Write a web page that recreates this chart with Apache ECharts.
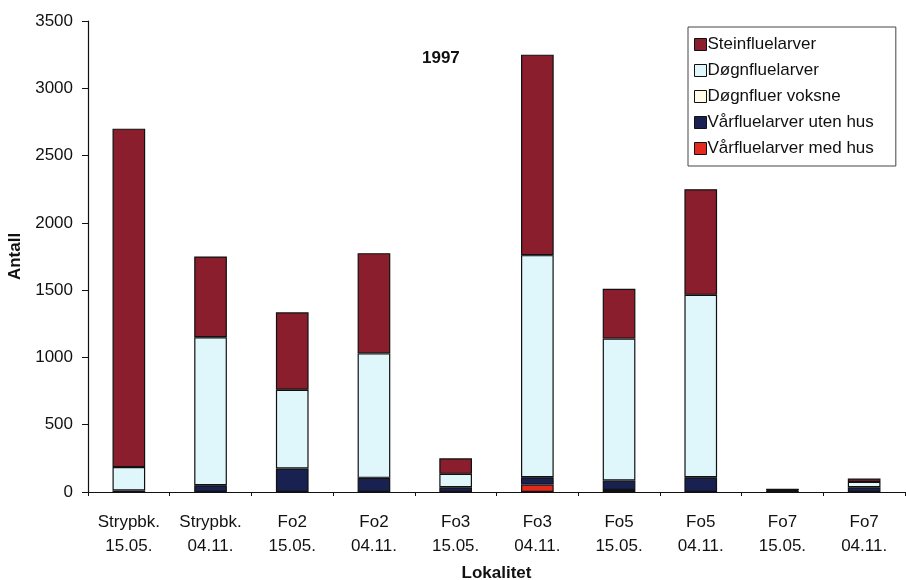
<!DOCTYPE html>
<html>
<head>
<meta charset="utf-8">
<script src="https://cdn.jsdelivr.net/npm/echarts@6/dist/echarts.min.js"></script>
<style>
  html, body { margin: 0; padding: 0; background: #fff; }
  #chart { width: 906px; height: 580px; }
</style>
</head>
<body>
<div id="chart"></div>
<script>
// Sampling sites and dates (two-line category labels)
const categories = [
  'Strypbk.\n15.05.', 'Strypbk.\n04.11.', 'Fo2\n15.05.', 'Fo2\n04.11.', 'Fo3\n15.05.',
  'Fo3\n04.11.', 'Fo5\n15.05.', 'Fo5\n04.11.', 'Fo7\n15.05.', 'Fo7\n04.11.'
];

// Counts per group (stacked bottom to top: med hus, uten hus, voksne, døgnfluelarver, steinfluelarver)
const vaarMedHus     = [0,   0,    0,   0,   0,   55,   15,   0,   0,  0];
const vaarUtenHus    = [12,  50,   175, 105, 35,  55,   70,   110, 10, 35];
const doegnVoksne    = [0,   0,    0,   0,   0,   0,    0,    0,   0,  0];
const doegnLarver    = [173, 1100, 585, 925, 100, 1650, 1055, 1355, 5, 40];
const steinLarver    = [2515, 600, 575, 745, 115, 1490, 370,  785, 10, 25];

const yTicks = { min: 0, max: 3500, interval: 500 };

const FONT = '"Liberation Sans", Arial, Helvetica, sans-serif';
const toData = arr => arr.map(v => (v === 0 ? null : v));

function barSeries(name, values, color) {
  return {
    name: name,
    type: 'bar',
    stack: 'antall',
    barWidth: '40%',
    data: toData(values),
    itemStyle: { color: color, borderColor: '#111', borderWidth: 1.2 },
    emphasis: { disabled: true }
  };
}

const chart = echarts.init(document.getElementById('chart'), null, { renderer: 'canvas' });
chart.setOption({
  animation: false,
  backgroundColor: '#fff',
  textStyle: { fontFamily: FONT },
  title: {
    text: '1997',
    left: 417,
    top: 45,
    textStyle: { fontFamily: FONT, fontSize: 17, fontWeight: 'bold', color: '#111' }
  },
  legend: {
    orient: 'vertical',
    left: 688,
    top: 27,
    backgroundColor: '#fff',
    borderColor: '#444',
    borderWidth: 1,
    padding: [9, 22, 9, 6],
    itemGap: 9,
    itemWidth: 12,
    itemHeight: 12,
    icon: 'rect',
    itemStyle: { borderColor: '#111', borderWidth: 1 },
    textStyle: { fontFamily: FONT, fontSize: 17, color: '#111', padding: [0, 0, 0, -4] },
    data: ['Steinfluelarver', 'Døgnfluelarver', 'Døgnfluer voksne', 'Vårfluelarver uten hus', 'Vårfluelarver med hus']
  },
  grid: { left: 88, right: 1, top: 21, bottom: 88, containLabel: false, outerBoundsMode: 'none' },
  xAxis: {
    type: 'category',
    data: categories,
    name: 'Lokalitet',
    nameLocation: 'middle',
    nameGap: 73,
    nameTextStyle: { fontFamily: FONT, fontSize: 17, fontWeight: 'bold', color: '#111' },
    axisLine: { lineStyle: { color: '#111', width: 1.2 } },
    axisTick: { show: true, length: 4, lineStyle: { color: '#111' } },
    axisLabel: { fontFamily: FONT, fontSize: 17, color: '#111', margin: 18, lineHeight: 24, interval: 0 }
  },
  yAxis: {
    type: 'value',
    min: yTicks.min,
    max: yTicks.max,
    interval: yTicks.interval,
    name: 'Antall',
    nameLocation: 'middle',
    nameRotate: 90,
    nameGap: 57,
    nameTextStyle: { fontFamily: FONT, fontSize: 17, fontWeight: 'bold', color: '#111' },
    axisLine: { show: true, lineStyle: { color: '#111', width: 1.2 } },
    axisTick: { show: true, length: 6, lineStyle: { color: '#111' } },
    splitLine: { show: false },
    axisLabel: { fontFamily: FONT, fontSize: 17, color: '#111', margin: 15, formatter: v => String(v) }
  },
  series: [
    barSeries('Vårfluelarver med hus', vaarMedHus, '#e42a1f'),
    barSeries('Vårfluelarver uten hus', vaarUtenHus, '#18214f'),
    barSeries('Døgnfluer voksne', doegnVoksne, '#fffbe6'),
    barSeries('Døgnfluelarver', doegnLarver, '#dff7fb'),
    barSeries('Steinfluelarver', steinLarver, '#8b1e2d')
  ]
});
</script>
</body>
</html>
